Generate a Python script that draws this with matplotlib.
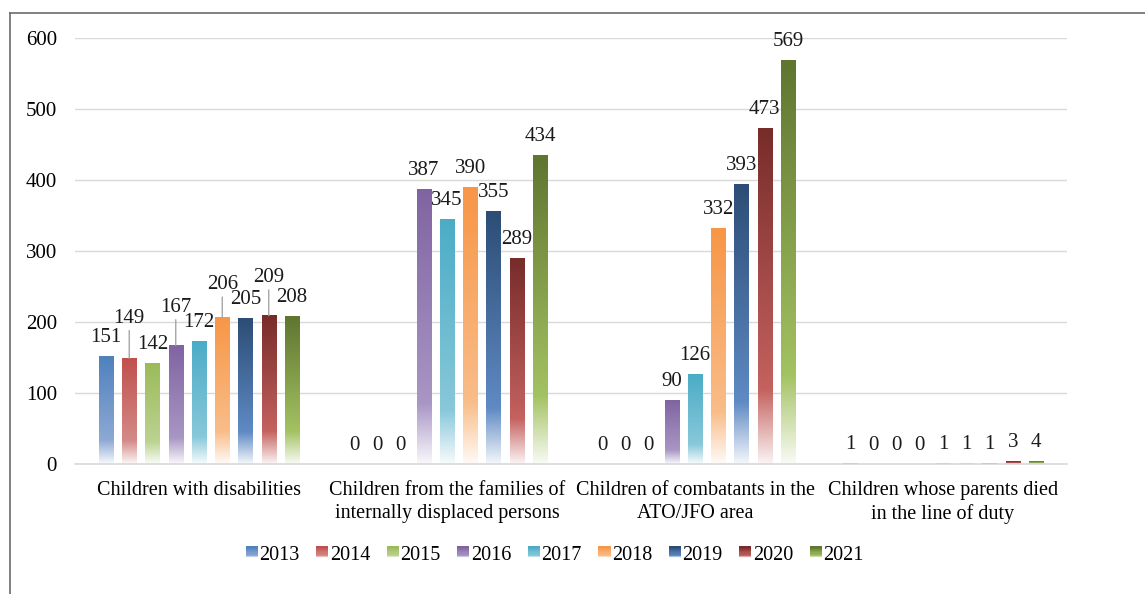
import numpy as np
import matplotlib
matplotlib.use("Agg")
import matplotlib.pyplot as plt
from matplotlib.colors import to_rgb
from matplotlib.patches import Rectangle
from matplotlib.legend_handler import HandlerBase
from matplotlib.lines import Line2D

# ---- data -------------------------------------------------------------
categories = [
    "Children with disabilities",
    "Children from the families of\ninternally displaced persons",
    "Children of combatants in the\nATO/JFO area",
    "Children whose parents died\nin the line of duty",
]
years = ["2013", "2014", "2015", "2016", "2017", "2018", "2019", "2020", "2021"]
v2013 = [151, 0, 0, 1]
v2014 = [149, 0, 0, 0]
v2015 = [142, 0, 0, 0]
v2016 = [167, 387, 90, 0]
v2017 = [172, 345, 126, 1]
v2018 = [206, 390, 332, 1]
v2019 = [205, 355, 393, 1]
v2020 = [209, 289, 473, 3]
v2021 = [208, 434, 569, 4]
series = [v2013, v2014, v2015, v2016, v2017, v2018, v2019, v2020, v2021]

# ---- styling ----------------------------------------------------------
top_colors = ["#4F81BD", "#C0504D", "#9BBB59", "#8064A2", "#4BACC6",
              "#F79646", "#2C4D75", "#772C2A", "#5F7530"]
mid_colors = ["#8DA9D4", "#D48A88", "#BCD291", "#A896C4", "#88C8DA",
              "#F9BD8A", "#5F8AC4", "#C4625F", "#A3C262"]

# labels lifted above their bars (series index, group index) -> px above bar top
raised = {(1, 0): 40, (3, 0): 38, (5, 0): 33, (7, 0): 38}

plt.rcParams["font.family"] = ["Liberation Serif", "DejaVu Serif"]
FS = 15
DPI = 100
W, H = 1145, 594


def mix(c, w):
    c = np.array(to_rgb(c))
    return c + (1 - c) * w


def gradient(top, mid, n=200):
    t = np.linspace(0, 1, n)[:, None]
    ctop = np.array(to_rgb(top))
    cmid = np.array(to_rgb(mid))
    cbot = mix(mid, 0.93)
    k = 0.78
    out = np.where(t <= k,
                   ctop + (cmid - ctop) * (t / k),
                   cmid + (cbot - cmid) * ((t - k) / (1 - k)))
    return out[:, None, :]


fig = plt.figure(figsize=(W / DPI, H / DPI), dpi=DPI)
ax = fig.add_axes([75 / W, 130 / H, (1067 - 75) / W, (464 - 38) / H])

n = len(years)
step = 0.09375
width = 0.0565
x = np.arange(len(categories))

for i, (vals, top, mid) in enumerate(zip(series, top_colors, mid_colors)):
    xs = x + (i - (n - 1) / 2) * step
    bars = ax.bar(xs, vals, width, color="none", edgecolor="none", zorder=2)
    grad = gradient(top, mid)
    for b in bars:
        h = b.get_height()
        if h > 0:
            ax.imshow(grad, extent=(b.get_x(), b.get_x() + b.get_width(), 0, h),
                      aspect="auto", interpolation="bilinear", zorder=2)
    for g, (xc, v) in enumerate(zip(xs, vals)):
        lift = raised.get((i, g))
        if lift is None:
            ax.annotate(f"{v}", (xc, v), xytext=(0, 19 * 72 / DPI),
                        textcoords="offset points", ha="center", va="center",
                        fontsize=FS, color="#1a1a1a", zorder=4)
        else:
            ax.annotate(f"{v}", (xc, v), xytext=(0, lift * 72 / DPI),
                        textcoords="offset points", ha="center", va="center",
                        fontsize=FS, color="#1a1a1a", zorder=4,
                        arrowprops=dict(arrowstyle="-", color="#A6A6A6", lw=1.0,
                                        shrinkA=0, shrinkB=0, relpos=(0.5, 0.0)))

ax.set_xlim(-0.5, len(categories) - 0.5)
ax.set_ylim(0, 600)
ax.set_yticks(np.arange(0, 601, 100))
ax.set_xticks(x)
ax.set_xticklabels(categories, fontsize=14.5, linespacing=1.3)
ax.tick_params(axis="x", length=0, pad=12)
ax.tick_params(axis="y", length=0, pad=13, labelsize=FS)
ax.grid(axis="y", color="#D9D9D9", lw=1.0, zorder=0)
ax.set_axisbelow(True)
for s in ["left", "right", "top"]:
    ax.spines[s].set_visible(False)
ax.spines["bottom"].set_color("#D9D9D9")
ax.spines["bottom"].set_linewidth(1.2)


class GradientHandler(HandlerBase):
    def __init__(self, top, mid):
        super().__init__()
        self.top, self.mid = top, mid

    def create_artists(self, legend, orig_handle, xdescent, ydescent,
                       width, height, fontsize, trans):
        g = gradient(self.top, self.mid, n=10)[:, 0, :]
        arts = []
        side = height
        x0 = -xdescent + (width - side) / 2
        for k, c in enumerate(g):
            y0 = -ydescent + side * (1 - (k + 1) / len(g))
            arts.append(Rectangle((x0, y0), side, side / len(g), facecolor=c,
                                  edgecolor="none", transform=trans))
        return arts


handles = [Rectangle((0, 0), 1, 1) for _ in years]
hmap = {h: GradientHandler(t, m) for h, t, m in zip(handles, top_colors, mid_colors)}
fig.legend(handles, years, handler_map=hmap, loc="center",
           bbox_to_anchor=(555 / W, 1 - 555 / H), ncol=n, frameon=False,
           fontsize=14.5, handlelength=0.55, handleheight=0.55,
           handletextpad=0.1, columnspacing=0.85)

# outer frame (left and top edges)
fx = 10 / W
fy = 1 - 13 / H
fig.add_artist(Line2D([fx, fx], [0, fy], color="#6b6b6b", lw=1.2,
                      transform=fig.transFigure))
fig.add_artist(Line2D([fx, 1], [fy, fy], color="#6b6b6b", lw=1.2,
                      transform=fig.transFigure))

fig.savefig("out.png", dpi=DPI, facecolor="white")
